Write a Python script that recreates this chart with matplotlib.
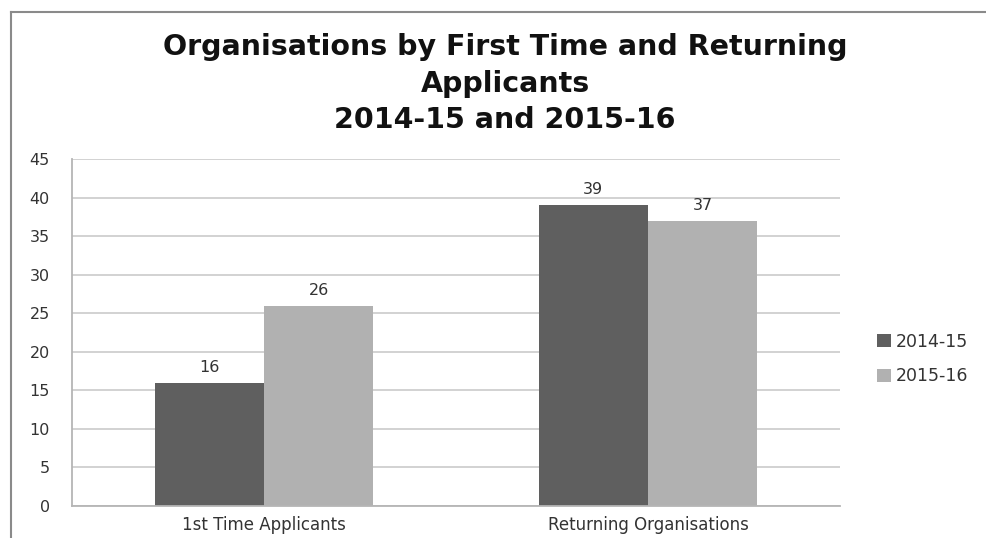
import matplotlib.pyplot as plt
from matplotlib.lines import Line2D
import numpy as np

plt.rcParams['font.family'] = ['DejaVu Sans']

categories = ['1st Time Applicants', 'Returning Organisations']
series_names = ['2014-15', '2015-16']
vals_1415 = [16, 39]
vals_1516 = [26, 37]
yticks = [0, 5, 10, 15, 20, 25, 30, 35, 40, 45]
title_lines = ['Organisations by First Time and Returning', 'Applicants', '2014-15 and 2015-16']
colors = ['#5f5f5f', '#b1b1b1']

W, H = 987, 538
fig = plt.figure(figsize=(W / 100, H / 100), dpi=100)
ax = fig.add_axes([72 / W, 1 - 506 / H, (840 - 72) / W, (506 - 159) / H])

x = np.arange(len(categories))
width = 0.285
bars1 = ax.bar(x - width/2, vals_1415, width, color=colors[0], label=series_names[0])
bars2 = ax.bar(x + width/2, vals_1516, width, color=colors[1], label=series_names[1])

for bars, vals in [(bars1, vals_1415), (bars2, vals_1516)]:
    for bar, v in zip(bars, vals):
        ax.text(bar.get_x() + bar.get_width()/2., v + 1.4, str(v),
                ha='center', va='baseline', fontsize=11.5, color='#333333')

ax.set_xlim(-0.5, 1.5)
ax.set_ylim(0, 45)
ax.set_yticks(yticks)
ax.set_xticks(x)
ax.set_xticklabels(categories, fontsize=12, color='#333333')
ax.tick_params(axis='y', length=0, pad=16, labelsize=11.5, labelcolor='#333333')
ax.tick_params(axis='x', length=0, pad=7)
ax.grid(axis='y', color='#cfcfcf', linewidth=1.3)
ax.set_axisbelow(True)
for s in ['top', 'right']:
    ax.spines[s].set_visible(False)
for s in ['left', 'bottom']:
    ax.spines[s].set_color('#b5b5b5')
    ax.spines[s].set_linewidth(1.3)

ax.legend(loc='center left', bbox_to_anchor=(877 / W, 1 - 359 / H),
          bbox_transform=fig.transFigure, frameon=False,
          fontsize=12.5, handlelength=0.8, handleheight=0.8, handletextpad=0.3,
          labelspacing=0.95, labelcolor='#333333', borderpad=0, borderaxespad=0)

for line, yb in zip(title_lines, [55, 92, 128]):
    fig.text(0.5 * (138 + 872) / W, 1 - yb / H, line, ha='center', va='baseline',
             fontsize=20.5, fontweight='bold', color='#111111')

# chart border (top and left edge)
fig.add_artist(Line2D([0.011, 1.0], [1 - 12 / H, 1 - 12 / H], color='#8a8a8a', lw=1.5))
fig.add_artist(Line2D([0.011, 0.011], [0.0, 1 - 12 / H], color='#8a8a8a', lw=1.5))

plt.savefig('out.png', dpi=100)
plt.close()
